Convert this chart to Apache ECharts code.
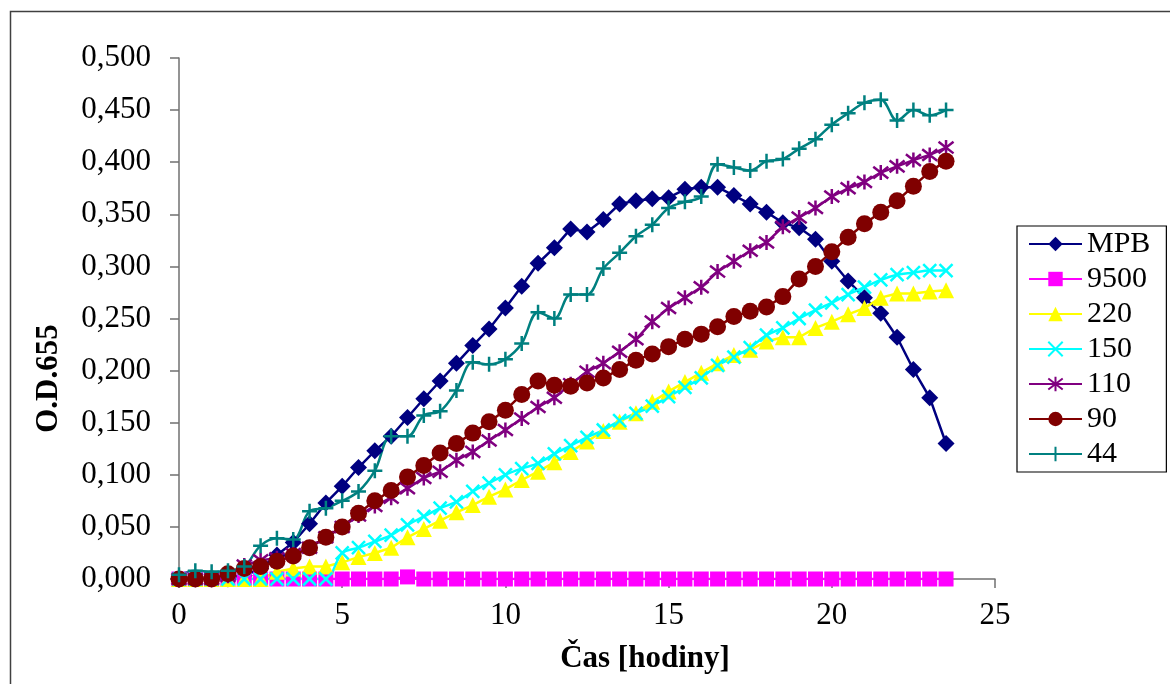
<!DOCTYPE html>
<html>
<head>
<meta charset="utf-8">
<script src="https://cdn.jsdelivr.net/npm/echarts@6/dist/echarts.min.js"></script>
<style>
html,body{margin:0;padding:0;background:#fff;}
#chart{width:1170px;height:684px;}
</style>
</head>
<body>
<div id="chart"></div>
<script>
// time in hours (0 .. 23.5 step 0.5)
const hours = [0,0.5,1,1.5,2,2.5,3,3.5,4,4.5,5,5.5,6,6.5,7,7.5,8,8.5,9,9.5,10,10.5,11,11.5,12,12.5,13,13.5,14,14.5,15,15.5,16,16.5,17,17.5,18,18.5,19,19.5,20,20.5,21,21.5,22,22.5,23,23.5];
const seriesNames = ['MPB','9500','220','150','110','90','44'];
const mpb  = [0,0,0,0,0.003,0.010,0.023,0.035,0.053,0.073,0.089,0.107,0.123,0.137,0.155,0.173,0.190,0.207,0.224,0.240,0.260,0.281,0.303,0.318,0.336,0.333,0.345,0.360,0.363,0.365,0.366,0.374,0.376,0.376,0.368,0.360,0.352,0.342,0.337,0.326,0.305,0.286,0.270,0.255,0.232,0.201,0.174,0.130];
const s9500 = [0,0,0,0,0,0,0,0,0,0,0,0,0,0,0.002,0,0,0,0,0,0,0,0,0,0,0,0,0,0,0,0,0,0,0,0,0,0,0,0,0,0,0,0,0,0,0,0,0];
const s220 = [0,0,0,0,0,0,0.007,0.010,0.012,0.012,0.016,0.021,0.025,0.030,0.040,0.048,0.056,0.064,0.071,0.079,0.086,0.095,0.103,0.112,0.122,0.132,0.142,0.151,0.159,0.170,0.180,0.189,0.198,0.207,0.215,0.220,0.228,0.232,0.232,0.241,0.247,0.254,0.260,0.270,0.274,0.274,0.276,0.277];
const s150 = [0,0,0,0,0,0,0,0,0,0,0.025,0.030,0.036,0.042,0.052,0.060,0.068,0.074,0.084,0.092,0.100,0.106,0.111,0.120,0.128,0.136,0.143,0.152,0.159,0.166,0.175,0.184,0.193,0.205,0.213,0.222,0.234,0.241,0.250,0.258,0.265,0.273,0.280,0.287,0.292,0.294,0.296,0.296];
const s110 = [0,0,0,0.003,0.013,0.018,0.020,0.024,0.030,0.040,0.050,0.061,0.070,0.078,0.087,0.097,0.103,0.114,0.122,0.133,0.143,0.154,0.165,0.174,0.187,0.199,0.207,0.218,0.230,0.247,0.260,0.270,0.280,0.295,0.305,0.315,0.323,0.338,0.347,0.356,0.367,0.375,0.381,0.390,0.396,0.402,0.407,0.414];
const s90  = [0,0,0,0.005,0.010,0.012,0.017,0.022,0.030,0.040,0.050,0.063,0.075,0.085,0.098,0.109,0.121,0.130,0.140,0.151,0.162,0.177,0.190,0.186,0.185,0.188,0.193,0.201,0.210,0.216,0.223,0.230,0.235,0.242,0.252,0.257,0.261,0.271,0.288,0.300,0.314,0.328,0.341,0.352,0.363,0.377,0.391,0.401];
const s44  = [0.004,0.008,0.007,0.008,0.012,0.032,0.039,0.038,0.065,0.068,0.075,0.084,0.104,0.137,0.137,0.157,0.161,0.181,0.208,0.206,0.211,0.226,0.256,0.250,0.273,0.273,0.298,0.313,0.329,0.340,0.356,0.362,0.367,0.398,0.395,0.392,0.401,0.403,0.413,0.422,0.436,0.447,0.457,0.460,0.440,0.450,0.445,0.450];
const xTicks = [0,5,10,15,20,25];
const yTicks = [0,0.05,0.1,0.15,0.2,0.25,0.3,0.35,0.4,0.45,0.5];

const allValues = [mpb, s9500, s220, s150, s110, s90, s44];
const colors = ['#000080','#FF00FF','#FFFF00','#00FFFF','#800080','#800000','#008080'];
const symbols = [
  'diamond','rect','triangle',
  'path://M0,0L10,10M10,0L0,10',
  'path://M0,0L10,10M10,0L0,10M5,-1.5L5,11.5',
  'circle',
  'path://M5,0L5,10M0,5L10,5'
];
const symSizes = [17,15,16,13,15,17,15];
const smooths = [false,false,false,0.35,false,false,0.35];
const strokeSym = [false,false,false,true,true,false,true];

const FONT = '"Liberation Serif","Times New Roman",serif';

const series = seriesNames.map((name,i)=>({
  name: name,
  type: 'line',
  data: hours.map((h,j)=>[h, allValues[i][j]]),
  symbol: symbols[i],
  symbolSize: symSizes[i],
  smooth: smooths[i],
  showAllSymbol: true,
  lineStyle: {color: colors[i], width: 2.5},
  itemStyle: strokeSym[i]
    ? {color: colors[i], borderColor: colors[i], borderWidth: 2.5}
    : {color: colors[i], borderWidth: 0},
  emphasis: {disabled: true},
  animation: false
}));

const chart = echarts.init(document.getElementById('chart'), null, {renderer:'canvas'});
chart.setOption({
  backgroundColor: '#fff',
  animation: false,
  graphic: [{
    type: 'rect',
    shape: {x: 10.5, y: 11.5, width: 1200, height: 720},
    style: {fill: 'none', stroke: '#404040', lineWidth: 1.5},
    silent: true, z: -1
  }],
  grid: {left: 179, right: 175, top: 58, bottom: 105, containLabel: false},
  xAxis: {
    type: 'value', min: 0, max: 25, interval: 5,
    name: 'Čas [hodiny]', nameLocation: 'middle', nameGap: 64,
    nameTextStyle: {fontFamily: FONT, fontSize: 31, fontWeight: 'bold', color: '#000', padding: [0,0,0,116]},
    axisLine: {show: true, lineStyle: {color: '#707070', width: 1.5}},
    axisTick: {show: true, inside: false, length: 9, lineStyle: {color: '#707070', width: 1.5}},
    axisLabel: {fontFamily: FONT, fontSize: 31, color: '#000', margin: 21,
      formatter: v => xTicks.includes(v) ? String(v) : ''},
    splitLine: {show: false}
  },
  yAxis: {
    type: 'value', min: 0, max: 0.5, interval: 0.05,
    name: 'O.D.655', nameLocation: 'middle', nameGap: 115, nameRotate: 90,
    nameTextStyle: {fontFamily: FONT, fontSize: 31, fontWeight: 'bold', color: '#000', padding: [0,120,0,0]},
    axisLine: {show: true, lineStyle: {color: '#707070', width: 1.5}},
    axisTick: {show: true, inside: false, length: 9, lineStyle: {color: '#707070', width: 1.5}},
    axisLabel: {fontFamily: FONT, fontSize: 31, color: '#000', margin: 28,
      formatter: v => v.toFixed(3).replace('.', ',')},
    splitLine: {show: false}
  },
  legend: {
    orient: 'vertical',
    left: 1017, top: 226,
    padding: [3, 16, 3, 11],
    itemWidth: 53, itemHeight: 18, itemGap: 5,
    borderColor: '#000', borderWidth: 1.2,
    backgroundColor: '#fff',
    textStyle: {fontFamily: FONT, fontSize: 30, color: '#000', lineHeight: 30, padding: [0,0,0,0]},
    data: seriesNames,
    selectedMode: false
  },
  series: series
});
</script>
</body>
</html>
